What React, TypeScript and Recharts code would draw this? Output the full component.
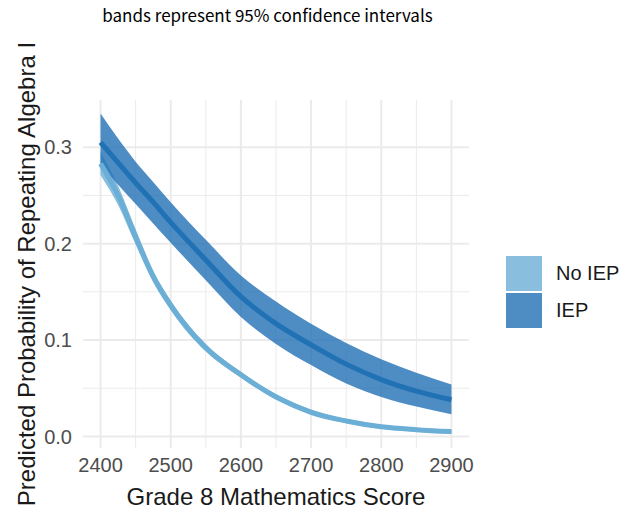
import { ComposedChart, Area, Line, XAxis, YAxis, CartesianGrid, Label } from 'recharts';

// values
const scores = [2400, 2425, 2450, 2475, 2500, 2550, 2600, 2650, 2700, 2750, 2800, 2850, 2900];

const noIepFit = [0.283, 0.250, 0.207, 0.166, 0.136, 0.092, 0.064, 0.041, 0.025, 0.016, 0.010, 0.007, 0.005];
const noIepLow = [0.271, 0.240, 0.199, 0.160, 0.131, 0.088, 0.061, 0.038, 0.023, 0.014, 0.008, 0.005, 0.003];
const noIepHigh = [0.295, 0.260, 0.215, 0.172, 0.141, 0.096, 0.067, 0.044, 0.028, 0.018, 0.012, 0.009, 0.007];

const iepFit = [0.305, 0.284, 0.263, 0.243, 0.222, 0.183, 0.145, 0.117, 0.095, 0.075, 0.059, 0.047, 0.038];
const iepLow = [0.282, 0.261, 0.241, 0.221, 0.201, 0.162, 0.124, 0.096, 0.074, 0.055, 0.041, 0.031, 0.023];
const iepHigh = [0.335, 0.309, 0.285, 0.264, 0.243, 0.204, 0.167, 0.140, 0.117, 0.097, 0.080, 0.066, 0.054];

const xTicks = [2400, 2500, 2600, 2700, 2800, 2900];
const xMinor = [2450, 2550, 2650, 2750, 2850];
const yTicks = [0, 0.1, 0.2, 0.3];
const yMinor = [0.05, 0.15, 0.25];

const legendItems = [
  { name: 'No IEP', color: '#89BEDE' },
  { name: 'IEP', color: '#4D8DC4' },
];

const data = scores.map((s, i) => ({
  score: s,
  noIep: noIepFit[i],
  noIepBand: [noIepLow[i], noIepHigh[i]],
  iep: iepFit[i],
  iepBand: [iepLow[i], iepHigh[i]],
}));

const font = '"Liberation Sans", Arial, sans-serif';

function XTitle(props: any) {
  const vb = props.viewBox;
  return (
    <text x={vb.x + vb.width / 2} y={505} textAnchor="middle" fontSize={24} fill="#1A1A1A" fontFamily={font}>
      Grade 8 Mathematics Score
    </text>
  );
}

function YTitle(props: any) {
  const vb = props.viewBox;
  const cy = vb.y + vb.height / 2;
  return (
    <text x={35} y={cy} transform={`rotate(-90, 35, ${cy})`} textAnchor="middle" fontSize={24} fill="#1A1A1A" fontFamily={font}>
      Predicted Probability of Repeating Algebra I
    </text>
  );
}

export default function App() {
  return (
    <div style={{ position: 'absolute', left: 0, top: 0, width: 634, height: 512, background: '#fff' }}>
      <div style={{ position: 'absolute', left: 0, top: 2, width: 535, textAlign: 'center', fontFamily: '"Noto Sans CJK KR", "Noto Sans", sans-serif', fontSize: 17, color: '#000' }}>
        bands represent 95% confidence intervals
      </div>

      <ComposedChart width={634} height={512} data={data} margin={{ top: 100, right: 165, bottom: 0, left: 0 }}>
        <CartesianGrid stroke="#EBEBEB" strokeWidth={1} horizontalValues={yMinor} verticalValues={xMinor} />
        <CartesianGrid stroke="#EBEBEB" strokeWidth={2} horizontalValues={yTicks} verticalValues={xTicks} />
        <XAxis
          dataKey="score"
          type="number"
          domain={[2375, 2925]}
          ticks={xTicks}
          axisLine={false}
          tickLine={false}
          tickSize={0}
          tickMargin={10}
          height={64}
          tick={{ fontSize: 20, fill: '#4D4D4D', fontFamily: font }}
        >
          <Label content={<XTitle />} />
        </XAxis>
        <YAxis
          type="number"
          domain={[-0.012, 0.349]}
          ticks={yTicks}
          tickFormatter={(v: number) => v.toFixed(1)}
          axisLine={false}
          tickLine={false}
          tickSize={0}
          tickMargin={11}
          width={83}
          tick={{ fontSize: 20, fill: '#4D4D4D', fontFamily: font }}
        >
          <Label content={<YTitle />} />
        </YAxis>

        <Area dataKey="noIepBand" type="monotone" stroke="none" fill="#6BAED6" fillOpacity={0.8} isAnimationActive={false} />
        <Line dataKey="noIep" type="monotone" stroke="#6BAED6" strokeWidth={5} dot={false} isAnimationActive={false} />
        <Area dataKey="iepBand" type="monotone" stroke="none" fill="#2171B5" fillOpacity={0.8} isAnimationActive={false} />
        <Line dataKey="iep" type="monotone" stroke="#2171B5" strokeWidth={5} dot={false} isAnimationActive={false} />
      </ComposedChart>

      <div style={{ position: 'absolute', left: 506, top: 255, fontFamily: font, fontSize: 20, color: '#1A1A1A' }}>
        {legendItems.map(it => (
          <div key={it.name} style={{ display: 'flex', alignItems: 'center', height: 36.5, marginBottom: 1 }}>
            <div style={{ width: 36, height: 35, background: it.color }} />
            <span style={{ marginLeft: 14 }}>{it.name}</span>
          </div>
        ))}
      </div>
    </div>
  );
}
